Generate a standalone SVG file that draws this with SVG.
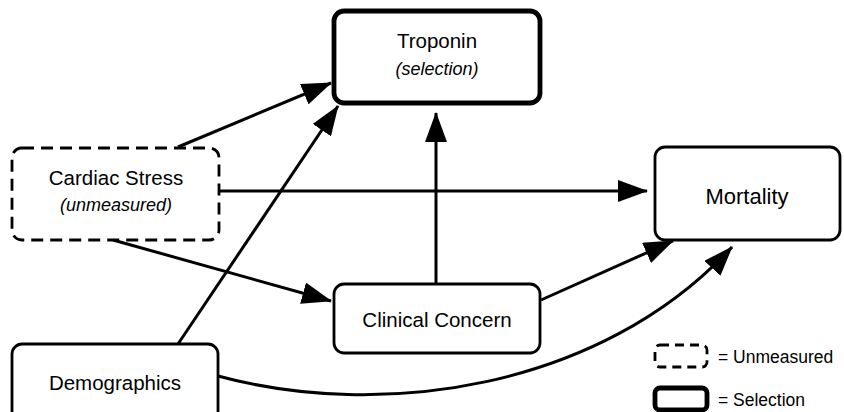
<svg xmlns="http://www.w3.org/2000/svg" width="844" height="412" viewBox="0 0 844 412">
<defs>
<style>
.box{fill:#fff;stroke:#000;stroke-width:2.8}
.dash{stroke-dasharray:12 7}
.sel{stroke-width:4.8}
.t{font-family:"Liberation Sans",Arial,sans-serif;font-size:20.5px;fill:#000;text-anchor:middle}
.i{font-family:"Liberation Sans",Arial,sans-serif;font-size:18px;font-style:italic;fill:#000;text-anchor:middle}
.l{font-family:"Liberation Sans",Arial,sans-serif;font-size:17.5px;fill:#000}
.e{fill:none;stroke:#000;stroke-width:3;marker-end:url(#ah)}
</style>
<marker id="ah" markerUnits="userSpaceOnUse" markerWidth="30" markerHeight="22" viewBox="0 0 30 22" refX="29" refY="11" orient="auto">
<path d="M0,0 L30,11 L0,22 z" fill="#000"/>
</marker>
</defs>
<g id="edges">
<path class="e" d="M178,147 L331,83"/>
<path class="e" d="M178,344 L338,106"/>
<path class="e" d="M436,283 L436,113"/>
<path class="e" d="M219,191 L647,191"/>
<path class="e" d="M113,240 L331,301"/>
<path class="e" d="M541,300 L673,241"/>
<path class="e" d="M218,376 C380,420 600,390 732,247"/>
</g>
<g id="troponin">
<rect class="box sel" x="334" y="11" width="206" height="92" rx="10"/>
<text class="t" x="437" y="48">Troponin</text>
<text class="i" x="437" y="75">(selection)</text>
</g>
<g id="cardiac-stress">
<rect class="box dash" x="12" y="148" width="207" height="92" rx="10"/>
<text class="t" x="116" y="185">Cardiac Stress</text>
<text class="i" x="116" y="211">(unmeasured)</text>
</g>
<g id="mortality">
<rect class="box" x="655" y="147" width="185" height="93" rx="10"/>
<text class="t" x="747" y="204" style="font-size:22px">Mortality</text>
</g>
<g id="clinical-concern">
<rect class="box" x="334" y="284" width="206" height="69" rx="10"/>
<text class="t" x="437" y="327">Clinical Concern</text>
</g>
<g id="demographics">
<rect class="box" x="12" y="344" width="206" height="90" rx="10"/>
<text class="t" x="115" y="390">Demographics</text>
</g>
<g id="legend">
<rect class="box dash" x="655" y="345" width="52" height="22" rx="5" style="stroke-dasharray:9 6"/>
<text class="l" x="718" y="363">= Unmeasured</text>
<rect class="box sel" x="655" y="388" width="52" height="22" rx="5"/>
<text class="l" x="718" y="406">= Selection</text>
</g>
</svg>
